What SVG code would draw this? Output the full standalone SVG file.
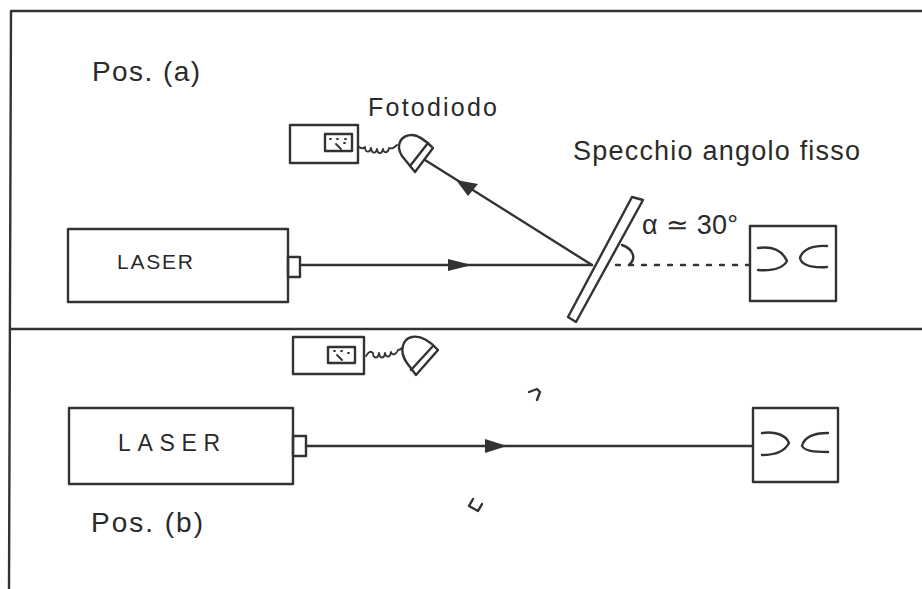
<svg xmlns="http://www.w3.org/2000/svg" width="922" height="589" viewBox="0 0 922 589">
<style>
.l{fill:none;stroke:#333;stroke-width:2.4;stroke-linecap:round;stroke-linejoin:round}
.f{stroke-width:1.8}
.h,.c{font-family:"Liberation Sans",sans-serif;fill:#2a2a2a}
.a{fill:#333}
</style>
<rect width="922" height="589" fill="#fff"/>
<g id="frame">
<path class="l" d="M11 11H922M11 11L9 589M10 329H922"/>
</g>
<g id="connectors">
<path class="l" d="M300 265H592"/>
<path class="a" d="M448 259L472 265L448 271Z"/>
<path class="l" d="M592 265L425 160"/>
<path class="a" d="M456 180L478 184L468 196Z"/>
<path class="l" stroke-dasharray="4 9" stroke-width="2.6" d="M616 265H750"/>
<path class="l" d="M306 446H753"/>
<path class="a" d="M485 439L507 446L485 453Z"/>
</g>
<g id="laser-a">
<rect class="l" x="68" y="229" width="220" height="73"/>
<rect class="l" x="288" y="257" width="12" height="20"/>
<text class="c" x="117" y="269" font-size="21" textLength="76" lengthAdjust="spacing">LASER</text>
</g>
<g id="laser-b">
<rect class="l" x="69" y="408" width="224" height="76"/>
<rect class="l" x="293" y="436" width="13" height="20"/>
<text class="c" x="118" y="451" font-size="23" textLength="102" lengthAdjust="spacing">LASER</text>
</g>
<g id="detector-a">
<rect class="l" x="290" y="125" width="68" height="38"/>
<rect class="l" x="325" y="134" width="27" height="17"/>
<path class="l f" d="M330 139h1M337 139h1M345 139h1M336 144l5 5M344 143h1"/>
<path class="l f" d="M358 146c3 3 5 3 7 1 0 6 5 6 6 1 1 6 5 6 6 1 1 6 5 5 6 0 1 5 5 4 6-1 2 1 5 0 8-3"/>
<path class="l" d="M433 148L415 172 402 156C395 145 401 135 412 135 419 135 426 141 433 148Z"/>
<path class="l" d="M428 143L410 166"/>
</g>
<g id="mirror">
<path class="l" d="M632 197L643 200 576 322 568 317Z"/>
</g>
<g id="angle">
<path class="l" d="M622 245C633 249 637 258 629 265"/>
</g>
<g id="target-a">
<rect class="l" x="750" y="226" width="86" height="75"/>
<path class="l" d="M758 248C772 246 782 250 787 261 783 268 772 271 758 270"/>
<path class="l" d="M827 246C812 245 802 250 800 258 802 266 812 268 827 267"/>
</g>
<g id="detector-b">
<rect class="l" x="293" y="337" width="71" height="37"/>
<rect class="l" x="328" y="347" width="27" height="16"/>
<path class="l f" d="M334 351h1M341 351h1M348 353h1M337 355l5 5"/>
<path class="l f" d="M366 356c3-5 5-5 7-3 0 6 5 6 6 0 1 6 5 6 6 0 1 5 5 5 6-1 1 4 5 3 7-2 2 0 3-1 4-2"/>
<path class="l" d="M438 350L416 375 407 363C399 352 402 339 412 337 421 335 431 342 438 350Z"/>
<path class="l" d="M433 346L411 370"/>
</g>
<g id="target-b">
<rect class="l" x="753" y="408" width="85" height="74"/>
<path class="l" d="M762 433C775 431 786 435 789 443 785 451 775 455 762 455"/>
<path class="l" d="M828 433C813 433 804 438 802 446 805 451 813 452 828 452"/>
</g>
<g id="marks">
<path class="l" stroke-width="3" d="M529 392L537 389 540 392 537 400"/>
<path class="l" stroke-width="3" d="M473 499L469 506 478 511 482 504"/>
</g>
<g id="labels">
<text class="h" x="92" y="81" font-size="28" textLength="108" lengthAdjust="spacing">Pos. (a)</text>
<text class="h" x="368" y="116" font-size="25" textLength="129" lengthAdjust="spacing">Fotodiodo</text>
<text class="h" x="573" y="160" font-size="27" textLength="287" lengthAdjust="spacing">Specchio angolo fisso</text>
<text class="h" x="642" y="234" font-size="27" textLength="96" lengthAdjust="spacing">α ≃ 30°</text>
<text class="h" x="91" y="532" font-size="28" textLength="112" lengthAdjust="spacing">Pos. (b)</text>
</g>
</svg>
